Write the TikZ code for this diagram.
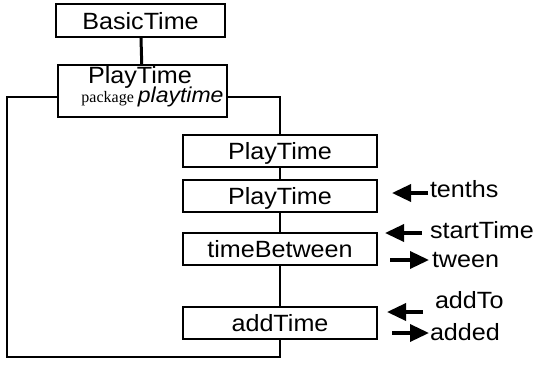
\documentclass[tikz,border=0pt]{standalone}
\usepackage{fontspec}
\setmainfont{Liberation Sans}[FakeStretch=1.07]
\newfontfamily\pkgserif{Liberation Serif}
\usetikzlibrary{positioning,arrows.meta}

\tikzset{
  unit/.style={draw, fill=white, line width=2pt, inner sep=0pt, outer sep=0pt,
    minimum width=194pt, minimum height=32pt, text height=17pt, text depth=0pt,
    font=\fontsize{23.5}{28}\selectfont},
  ident/.style={inner sep=0pt, outer sep=0pt, font=\fontsize{23.5}{28}\selectfont},
  flow/.style={line width=3.5pt, -{Triangle[length=19pt,width=17pt]}},
}

\begin{document}
\begin{tikzpicture}[x=1pt, y=-1pt]
  \useasboundingbox (0,0) rectangle (539,378);

  % package frame, its right side runs down through the units
  \coordinate (frameNW) at (7,97);
  \coordinate (frameSE) at (280,357);
  \draw[line width=2pt] (frameNW) rectangle (frameSE);

  \node[unit, minimum width=169pt, minimum height=33pt] (basic) at (140.5,20.5) {BasicTime};
  \node[unit, minimum width=169pt, minimum height=52pt] (pkg) at (142.5,91) {};
  \node[ident, anchor=base] (pkgname) at (140,83) {PlayTime};
  \node[ident, anchor=base] (pkgtag) at (152.5,102)
    {{\pkgserif\fontsize{16}{19}\selectfont package }{\itshape\fontsize{21.5}{25}\selectfont playtime}};
  \draw[line width=3pt] (basic) -- (pkg);

  \node[unit] (pt1) at (280,151) {PlayTime};
  \node[unit, below=13pt of pt1] (pt2) {PlayTime};
  \node[unit, below=21pt of pt2] (between) {timeBetween};
  \node[unit, below=42pt of between] (add) {addTime};
  \draw[line width=2pt] (pt1) -- (pt2) (pt2) -- (between) (between) -- (add);

  % parameters in and out
  \node[ident, anchor=base west] (tenths) at (430,197) {tenths};
  \node[ident, anchor=base west] (start) at (430,238) {startTime};
  \node[ident, anchor=base west] (tween) at (432,267) {tween};
  \node[ident, anchor=base west] (addto) at (435,308) {addTo};
  \node[ident, anchor=base west] (added) at (430,340) {added};

  \coordinate (tenthsTip) at (392,193);
  \coordinate (startTip) at (385,233);
  \coordinate (tweenTail) at (390,260);
  \coordinate (addtoTip) at (387,312);
  \coordinate (addedTail) at (392,333);

  \draw[flow, shorten <=2pt] (tenths.west |- tenthsTip) -- (tenthsTip);
  \draw[flow, shorten <=8pt] (start.west |- startTip) -- (startTip);
  \draw[flow, shorten >=3pt] (tweenTail) -- (tween.west |- tweenTail);
  \draw[flow, shorten <=12pt] (addto.west |- addtoTip) -- (addtoTip);
  \draw[flow, shorten >=1pt] (addedTail) -- (added.west |- addedTail);
\end{tikzpicture}
\end{document}
